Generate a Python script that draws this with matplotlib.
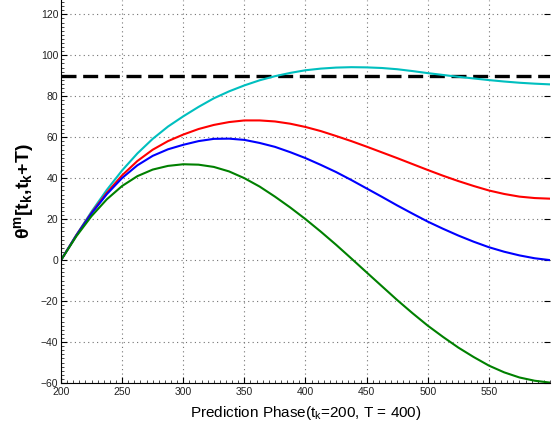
import numpy as np
import matplotlib
matplotlib.use("Agg")
import matplotlib.pyplot as plt
from matplotlib.ticker import MultipleLocator

plt.rcParams['font.family'] = ['Liberation Sans', 'DejaVu Sans']
plt.rcParams['mathtext.fontset'] = 'custom'
plt.rcParams['mathtext.rm'] = 'Liberation Sans'
plt.rcParams['mathtext.it'] = 'Liberation Sans'
plt.rcParams['mathtext.bf'] = 'Liberation Sans:bold'

# prediction phase samples (every 12.5)
t = [200, 212.5, 225, 237.5, 250, 262.5, 275, 287.5, 300, 312.5, 325, 337.5, 350,
     362.5, 375, 387.5, 400, 412.5, 425, 437.5, 450, 462.5, 475, 487.5, 500,
     512.5, 525, 537.5, 550, 562.5, 575, 587.5, 600]

theta_cyan = [0, 12.2, 23.7, 34.3, 43.8, 52.1, 59.2, 65.2, 70.2, 74.8, 79, 82.4, 85.3,
              87.8, 89.8, 91.4, 92.7, 93.5, 94, 94.2, 94.1, 93.8, 93.2, 92.3, 91.3,
              90.4, 89.5, 88.7, 87.9, 87.2, 86.6, 86.15, 85.8]
theta_red = [0, 12.1, 23.1, 32.9, 41.4, 48.4, 53.9, 58.1, 61.3, 64.0, 66, 67.4, 68.2,
             68.2, 67.7, 66.6, 65, 63.0, 60.6, 58.1, 55.4, 52.6, 49.8, 46.9, 44,
             41.2, 38.6, 36.2, 34, 32.3, 31, 30.3, 30]
theta_blue = [0, 12.0, 22.8, 32.2, 40.1, 46.3, 50.9, 54.1, 56.3, 58.1, 59.2, 59.3, 58.7,
              57.2, 55.3, 52.7, 49.8, 46.5, 43, 39.1, 35, 30.9, 26.7, 22.7, 18.8,
              15.3, 12, 9.0, 6.3, 4.1, 2.3, 0.9, 0]
theta_green = [0, 11.6, 21.5, 29.7, 36.2, 41.0, 44.2, 46.0, 46.8, 46.6, 45.5, 43.3, 40,
               35.9, 31, 25.7, 20, 13.9, 7.5, 0.8, -6, -12.75, -19.5, -25.9, -32,
               -37.5, -42.7, -47.3, -51.5, -54.8, -57.3, -58.9, -59.8]

threshold = 90

fig = plt.figure(figsize=(5.52, 4.23), dpi=100)
ax = fig.add_axes([61/552, 40/423, 489/552, 383/423])

ax.plot([t[0], t[-1]], [threshold, threshold], color='k', lw=2.4, dashes=(4.5, 2))
ax.plot(t, theta_cyan, color=(0, 0.75, 0.75), lw=1.5)
ax.plot(t, theta_red, color='r', lw=1.5)
ax.plot(t, theta_blue, color='b', lw=1.5)
ax.plot(t, theta_green, color=(0, 0.5, 0), lw=1.5)

ax.set_xlim(200, 600)
ax.set_ylim(-60, 127)
ax.set_xticks(np.arange(200, 551, 50))
ax.set_yticks(np.arange(-60, 121, 20))
ax.xaxis.set_minor_locator(MultipleLocator(5))
ax.yaxis.set_minor_locator(MultipleLocator(2))

ax.grid(True, which='major', color='0.45', linestyle=(0, (1, 3)), lw=0.8)
ax.tick_params(which='major', direction='in', length=4, width=0.8, labelsize=7.5,
               labelcolor='#222222', right=True, pad=2)
ax.tick_params(axis='x', which='major', pad=3)
ax.tick_params(which='minor', direction='in', length=2, width=0.5, right=False)
ax.spines['top'].set_visible(False)
ax.spines['right'].set_visible(False)

ax.set_xlabel(r'Prediction Phase(t$_\mathrm{k}$=200, T = 400)', fontsize=11, labelpad=5)
ax.set_ylabel(r'$\mathbf{\theta^{m}[t_{k}{,}t_{k}{+}T)}$', fontsize=14, labelpad=3)

fig.savefig('out.png', dpi=100)
